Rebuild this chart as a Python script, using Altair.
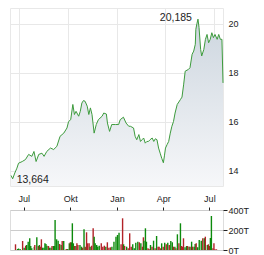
import altair as alt
import pandas as pd

START = "2023-06-14"

# price series: day offset from START, closing value
price_days = [2,5,9,13,16,23,29,35,41,45,49,54,60,64,69,76,82,88,94,101,
              107,110,114,118,121,124,129,132,135,138,141,145,148,151,154,158,162,166,173,176,
              181,183,187,191,198,204,207,213,218,223,226,232,235,238,242,245,248,251,254,257,
              260,263,267,270,273,276,279,282,285,288,290,292,295,298,301,304,307,310,314,317,
              320,323,326,329,335,338,342,345,348,349,351,353,355,358,360,364,367,370,373,376,
              379,382,385,389,392,395,398,400]
price_vals = [13.80,13.664,13.90,14.10,14.30,14.37,14.45,14.66,14.58,14.78,14.37,14.66,14.71,14.58,14.78,
              14.92,14.86,14.99,15.40,15.53,15.74,16.00,16.08,16.70,16.29,16.42,16.22,16.42,16.76,16.86,
              16.83,16.63,16.29,16.56,16.29,15.53,15.88,16.08,16.22,16.35,16.31,15.94,15.60,15.88,15.88,
              15.88,16.08,16.18,15.94,15.81,15.81,15.74,15.40,15.26,15.47,15.19,15.26,15.33,15.12,15.19,
              15.19,15.26,15.33,15.19,15.30,15.26,14.92,14.71,14.50,14.32,14.60,14.92,15.06,15.19,15.53,
              15.81,16.00,16.35,16.70,16.80,16.90,17.00,17.50,18.06,18.13,18.20,18.75,18.88,19.16,19.77,
              20.00,20.185,19.84,18.95,18.68,18.95,19.36,19.56,19.22,19.36,19.63,19.43,19.56,19.36,19.56,
              19.36,19.36,17.58]

# volume bars (thousands): day offset, volume, up(1)/down(0)
vol_days = [1,5,7,10,15,18,21,23,26,29, 31,33,38,39,43,46,48,50,52,54,
            57,59,61,63,66,68,71,73,76,78, 79,82,85,88,91,93,96,101,104,107,
            109,111,113,115,117,120,122,124,128,131, 133,136,138,140,141,143,146,148,151,154,
            156,158,161,163,166,170,173,176,179,182, 185,188,191,
            195,199,202,205,209,212,214,216,220,223, 226,229,232,235,238,242,245,248,251,253,
            254,257,259,262,264,267,270,273,276,279, 282,284,287,289,292,295,298,301,304,307,
            310,312,315,317,320,323,326,328,330,332, 335,338,340,343,345,348,350,353,355,357,
            360,363,367,370,373,375,379,381,383,385, 387,390,392,394,397]
vol_vals = [57,10,15,10,90,23,43,50,83,117, 40,17,33,50,127,40,50,33,107,23,
            23,67,60,43,40,23,23,40,40,40, 300,107,93,60,50,90,90,10,10,67,
            77,77,267,67,40,40,67,50,50,33, 23,207,33,27,177,67,67,33,43,217,
            133,67,50,33,43,67,33,43,33,77, 23,27,33,
            83,133,150,173,57,317,57,40,33,17, 167,33,57,17,73,83,77,67,33,127,
            93,217,83,17,10,50,33,93,17,140, 33,33,17,67,33,73,57,73,50,90,
            77,33,33,17,157,67,267,40,33,117, 27,40,40,33,33,83,33,33,60,67,
            27,100,93,117,117,133,50,57,40,120, 340,17,67,7,7]
vol_up = [0,1,1,1,0,1,0,1,1,1, 1,1,1,0,1,0,1,0,0,1,
          1,1,1,1,0,1,1,0,1,1, 1,1,1,0,1,0,1,0,1,1,
          0,1,1,1,0,1,0,0,1,1, 0,1,0,1,0,0,0,1,0,0,
          1,1,1,1,1,0,0,0,1,0, 0,0,1,
          1,1,1,1,0,0,1,0,1,0, 0,0,1,1,1,1,0,1,0,0,
          1,1,1,0,0,1,0,1,0,1, 0,0,0,1,0,1,0,1,0,1,
          1,0,1,0,1,0,1,0,0,0, 1,1,0,1,0,1,0,1,1,0,
          1,1,1,0,1,0,1,0,0,1, 1,0,0,0,0]

month_names = ['Jan','Feb','Mär','Apr','Mai','Jun','Jul','Aug','Sep','Okt','Nov','Dez']
y_ticks = [14, 16, 18, 20]
vol_ticks = [0, 200, 400]

start = pd.Timestamp(START)
price = pd.DataFrame({"date": start + pd.to_timedelta(price_days, unit="D"), "price": price_vals})
vol = pd.DataFrame({"date": start + pd.to_timedelta(vol_days, unit="D"), "vol": vol_vals, "up": vol_up})

imax = price["price"].idxmax()
imin = price["price"].idxmin()
ann = pd.DataFrame({
    "date": [price.loc[imax, "date"], price.loc[imin, "date"]],
    "price": [price.loc[imax, "price"], price.loc[imin, "price"]],
    "label": [f"{price.loc[imax,'price']:.3f}".replace(".", ","),
              f"{price.loc[imin,'price']:.3f}".replace(".", ",")],
})

YMIN, YMAX = 13.37, 20.64
xdom = [alt.DateTime(year=2023, month=6, date=14), alt.DateTime(year=2024, month=7, date=18)]
month_vals = [alt.DateTime(year=2023, month=7, date=1), alt.DateTime(year=2023, month=10, date=1),
              alt.DateTime(year=2024, month=1, date=1), alt.DateTime(year=2024, month=4, date=1),
              alt.DateTime(year=2024, month=7, date=1)]
FONT = "Liberation Sans"
GRID = "#e8e8e8"

xs = alt.X("date:T", scale=alt.Scale(domain=xdom),
           axis=alt.Axis(values=month_vals, labels=False, ticks=False, domain=False,
                         grid=True, gridColor=GRID, title=None))
ys = alt.Y("price:Q", scale=alt.Scale(domain=[YMIN, YMAX], nice=False, zero=False),
           axis=alt.Axis(orient="right", values=y_ticks, ticks=False, domain=False, grid=True,
                         gridColor=GRID, labelPadding=5, labelFontSize=9, labelColor="#222",
                         labelFont=FONT, title=None))

grad = alt.Gradient(gradient="linear", x1=0, x2=0, y1=0, y2=1,
                    stops=[alt.GradientStop(color="#cdd6df", offset=0),
                           alt.GradientStop(color="#f6f7f9", offset=1)])
area = alt.Chart(price).mark_area(color=grad).encode(x=xs, y=ys, y2=alt.datum(YMIN))
line = alt.Chart(price).mark_line(color="#3d9b3d", strokeWidth=1).encode(x=xs, y=ys)
t_max = alt.Chart(ann.iloc[[0]]).mark_text(align="right", baseline="middle", dx=-6, dy=-1,
                                            fontSize=10.5, font=FONT, color="#222").encode(
    x="date:T", y="price:Q", text="label:N")
t_min = alt.Chart(ann.iloc[[1]]).mark_text(align="left", baseline="middle", dx=4, dy=1,
                                            fontSize=10.5, font=FONT, color="#222").encode(
    x="date:T", y="price:Q", text="label:N")

top = alt.layer(area, line, t_max, t_min).properties(
    width=213, height=178, view=alt.ViewBackground(stroke=GRID))

bars = alt.Chart(vol).mark_bar(size=1.4).encode(
    x=alt.X("date:T", scale=alt.Scale(domain=xdom),
            axis=alt.Axis(orient="top", values=month_vals, grid=False, domain=False,
                          ticks=True, tickSize=3, tickColor="#222", labelPadding=4,
                          labelFontSize=9, labelFont=FONT, labelColor="#222", title=None,
                          labelExpr="%s[month(datum.value)]" % str(month_names))),
    y=alt.Y("vol:Q", scale=alt.Scale(domain=[0, 400], nice=False),
            axis=alt.Axis(orient="right", values=vol_ticks, grid=True, gridColor="#cccccc",
                          domain=False, ticks=True, tickSize=4, tickColor="#222",
                          labelPadding=1, labelFontSize=9, labelFont=FONT, labelColor="#222",
                          title=None, labelExpr="datum.value + 'T'")),
    color=alt.Color("up:N", scale=alt.Scale(domain=[0, 1], range=["#b22228", "#0c8a0c"]),
                    legend=None),
).properties(width=213, height=40)

chart = alt.vconcat(top, bars, spacing=6).properties(
    padding={"left": 8, "top": 7, "right": 0, "bottom": 0}
).configure_view(stroke="transparent").configure(background="white")

chart.save("out.html", embed_options={"renderer": "svg", "actions": False})
